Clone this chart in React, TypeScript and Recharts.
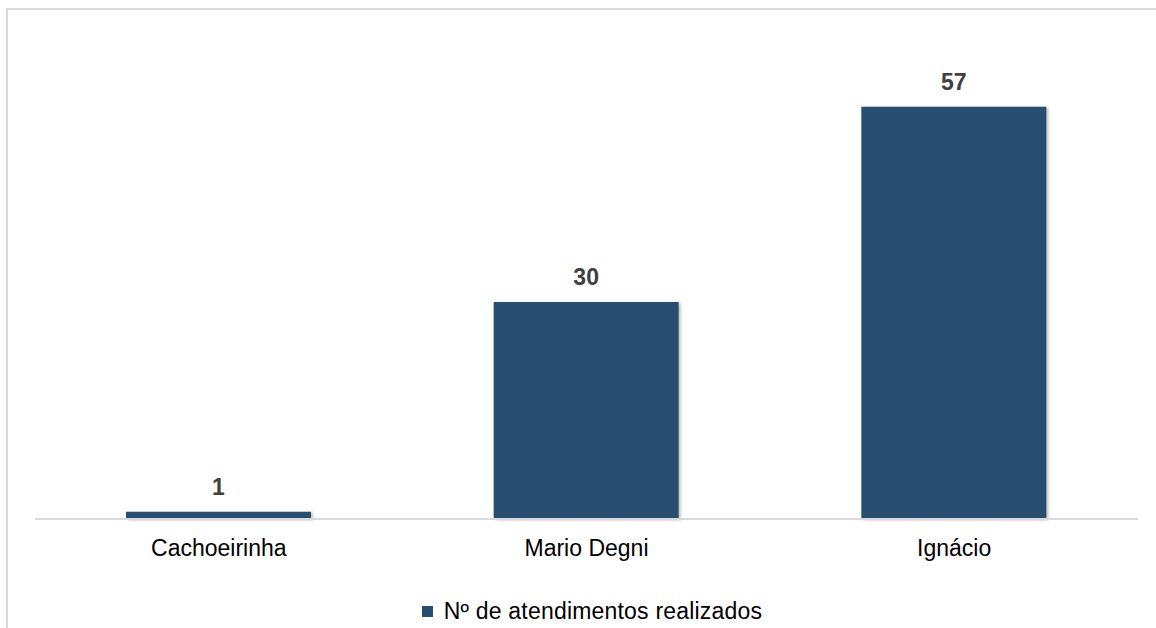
import { Bar, BarChart, LabelList, Legend, XAxis, YAxis } from "recharts";

const units = ["Cachoeirinha", "Mario Degni", "Ignácio"];
const atendimentos = [1, 30, 57];
const seriesName = "Nº de atendimentos realizados";

const data = units.map((u, i) => ({ unidade: u, atendimentos: atendimentos[i] }));

const FONT = '"Liberation Sans", Arial, sans-serif';
const BAR = "#274e70";

function LegendContent({ payload }: any) {
  return (
    <div style={{ display: "flex", justifyContent: "center", alignItems: "center", fontFamily: FONT, paddingLeft: 28 }}>
      {(payload || []).map((p: any) => (
        <div key={p.value} style={{ display: "flex", alignItems: "center" }}>
          <span style={{ width: 11, height: 11, background: p.color, display: "inline-block", marginRight: 11 }} />
          <span style={{ fontSize: 23, color: "#000", lineHeight: "26px", letterSpacing: 0.2 }}>{p.value}</span>
        </div>
      ))}
    </div>
  );
}

export default function App() {
  return (
    <div style={{ position: "absolute", left: 0, top: 0, width: 1156, height: 628, overflow: "hidden", background: "#fff" }}>
      <div
        style={{
          position: "absolute",
          left: 6,
          top: 8,
          width: 1200,
          height: 700,
          borderLeft: "2px solid #d9d9d9",
          borderTop: "2px solid #d9d9d9",
        }}
      />
      <BarChart
        width={1156}
        height={628}
        data={data}
        margin={{ top: 85, right: 18, left: 35, bottom: 79 }}
        style={{ position: "absolute", left: 0, top: 0, fontFamily: FONT }}
      >
        <XAxis
          dataKey="unidade"
          height={30}
          axisLine={{ stroke: "#d9d9d9", strokeWidth: 2 }}
          tickLine={false}
          tickMargin={15}
          tick={{ fill: "#000", fontSize: 23, fontFamily: FONT }}
        />
        <YAxis hide domain={[0, 60]} />
        <Legend
          verticalAlign="middle"
          layout="horizontal"
          content={<LegendContent />}
          wrapperStyle={{ top: 598, left: 0, width: 1156 }}
        />
        <Bar
          dataKey="atendimentos"
          name={seriesName}
          fill={BAR}
          barSize={185}
          isAnimationActive={false}
          style={{ filter: "drop-shadow(2px 1px 1.5px rgba(0,0,0,0.25))" }}
        >
          <LabelList
            dataKey="atendimentos"
            position="top"
            offset={17}
            fill="#404040"
            fontSize={23}
            fontWeight="bold"
            fontFamily={FONT}
          />
        </Bar>
      </BarChart>
    </div>
  );
}
